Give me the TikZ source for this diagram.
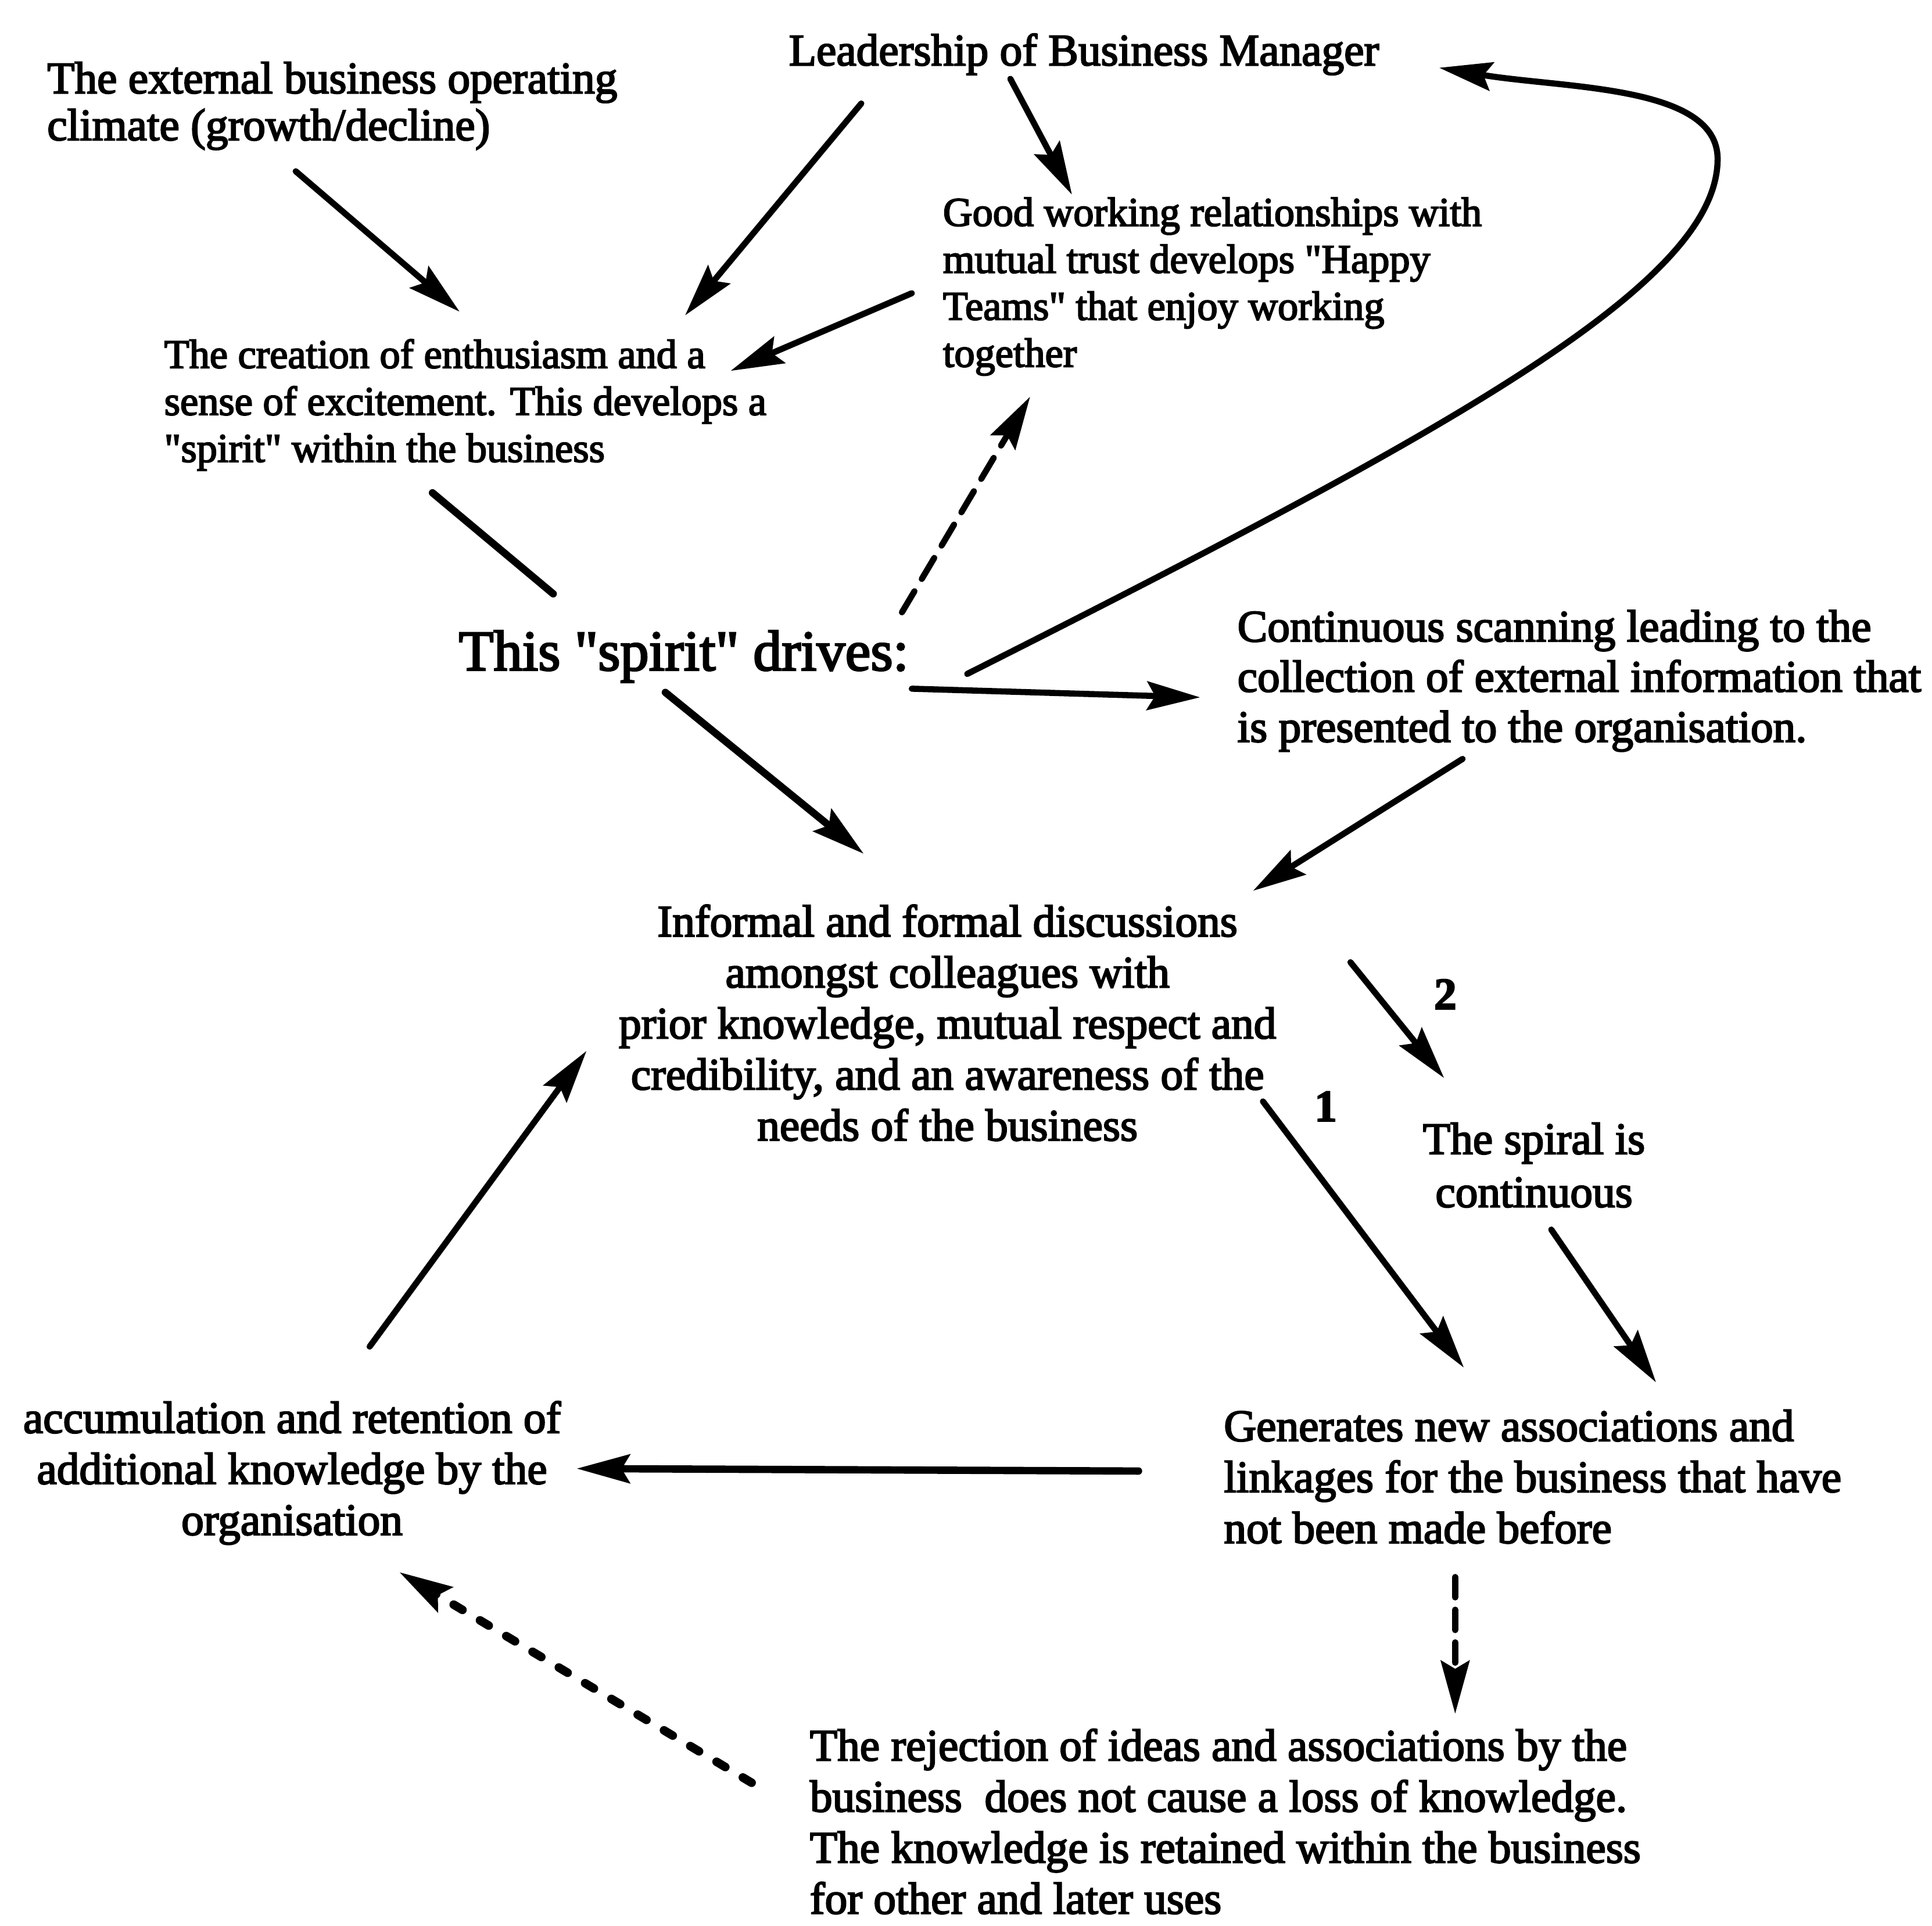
\documentclass[tikz,border=0pt]{standalone}
\usepackage{fontspec}
\setmainfont{Liberation Serif}[FakeBold=3]
\usepackage{tikz}
\usetikzlibrary{arrows.meta}

\begin{document}
\begin{tikzpicture}[x=0.021205cm, y=-0.021205cm,
  txt/.style={inner sep=0pt, font=\fontsize{22}{25}\selectfont},
  lefttxt/.style={txt, align=left, anchor=north west},
  midtxt/.style={txt, align=center, anchor=north},
  arr/.style={-{Stealth[length=26pt,width=14pt,inset=4pt]}, line width=3pt, line cap=round},
  dashedarr/.style={arr, dash pattern=on 12pt off 7pt},
  dotarr/.style={arr, line width=4.2pt, dash pattern=on 5pt off 10pt}]
  \useasboundingbox (0,0) rectangle (1568,1563);
  \node[lefttxt, font=\fontsize{22}{23}\selectfont] (ext) at (38,50) {The external business operating\\climate (growth/decline)};
  \node[txt, anchor=base west] (lead) at (640,53) {Leadership of Business Manager};
  \node[lefttxt, font=\fontsize{20}{23}\selectfont] (good) at (765,160) {Good working relationships with\\mutual trust develops \textquotedbl Happy\\Teams\textquotedbl{} that enjoy working\\together};
  \node[lefttxt, font=\fontsize{20}{23}\selectfont] (enth) at (133,275) {The creation of enthusiasm and a\\sense of excitement. This develops a\\\textquotedbl spirit\textquotedbl{} within the business};
  \node[txt, anchor=base west, font=\fontsize{28}{30}\selectfont] (spirit) at (372,544) {This \textquotedbl spirit\textquotedbl{} drives:};
  \node[lefttxt, font=\fontsize{22}{24.6}\selectfont] (scan) at (1004,495) {Continuous scanning leading to the\\collection of external information that\\is presented to the organisation.};
  \node[midtxt] (disc) at (769,734) {Informal and formal discussions\\amongst colleagues with\\prior knowledge, mutual respect and\\credibility, and an awareness of the\\needs of the business};
  \node[midtxt, font=\fontsize{22}{26}\selectfont] (spiral) at (1245,911) {The spiral is\\continuous};
  \node[lefttxt] (gen) at (993,1144) {Generates new associations and\\linkages for the business that have\\not been made before};
  \node[midtxt] (accum) at (237,1137) {accumulation and retention of\\additional knowledge by the\\organisation};
  \node[lefttxt] (rej) at (657,1403) {The rejection of ideas and associations by the\\business\ \ does not cause a loss of knowledge.\\The knowledge is retained within the business\\for other and later uses};
  \node[txt, font=\bfseries\fontsize{22}{25}\selectfont] (two) at (1173,807) {2};
  \node[txt, font=\bfseries\fontsize{22}{25}\selectfont] (one) at (1076,898) {1};
  \coordinate (turn) at (1394,129);
  \draw[arr] ([shift={(202,89)}]ext.north west) -- ([shift={(240,-22)}]enth.north west);
  \draw[arr] ([shift={(59,31)}]lead.base west) -- ([shift={(423,-19)}]enth.north west);
  \draw[arr] ([shift={(-25,78)}]good.north west) -- ([shift={(460,26)}]enth.north west);
  \draw[arr] ([shift={(180,11)}]lead.base west) -- ([shift={(105,-2)}]good.north west);
  \draw[line width=3.6pt, line cap=round] ([shift={(218,125)}]enth.north west) -- ([shift={(77,-62)}]spirit.base west);
  \draw[dashedarr] ([shift={(360,-47)}]spirit.base west) -- ([shift={(71,162)}]good.north west);
  \draw[arr] ([shift={(413,3)}]spirit.base west) .. controls (1186,345) and (1394,229) .. (turn) .. controls (1394,69) and (1270,72) .. ([shift={(528,2)}]lead.base west);
  \draw[arr] ([shift={(368,15)}]spirit.base west) -- ([shift={(-30,71)}]scan.north west);
  \draw[arr, line width=3.6pt] ([shift={(168,18)}]spirit.base west) -- ([shift={(-68,-41)}]disc.north);
  \draw[arr] ([shift={(183,121)}]scan.north west) -- ([shift={(248,-11)}]disc.north);
  \draw[arr] ([shift={(327,47)}]disc.north) -- ([shift={(-73,-36)}]spiral.north);
  \draw[arr] ([shift={(256,160)}]disc.north) -- ([shift={(195,-34)}]gen.north west);
  \draw[arr] ([shift={(14,87)}]spiral.north) -- ([shift={(351,-22)}]gen.north west);
  \draw[arr, line width=3.6pt] ([shift={(-69,50)}]gen.north west) -- ([shift={(231,55)}]accum.north);
  \draw[arr] ([shift={(63,-44)}]accum.north) -- ([shift={(-293,119)}]disc.north);
  \draw[dashedarr, dash pattern=on 10pt off 6pt] ([shift={(188,136)}]gen.north west) -- ([shift={(524,-12)}]rej.north west);
  \draw[dotarr] ([shift={(-47,44)}]rej.north west) -- ([shift={(87,139)}]accum.north);
\end{tikzpicture}
\end{document}
